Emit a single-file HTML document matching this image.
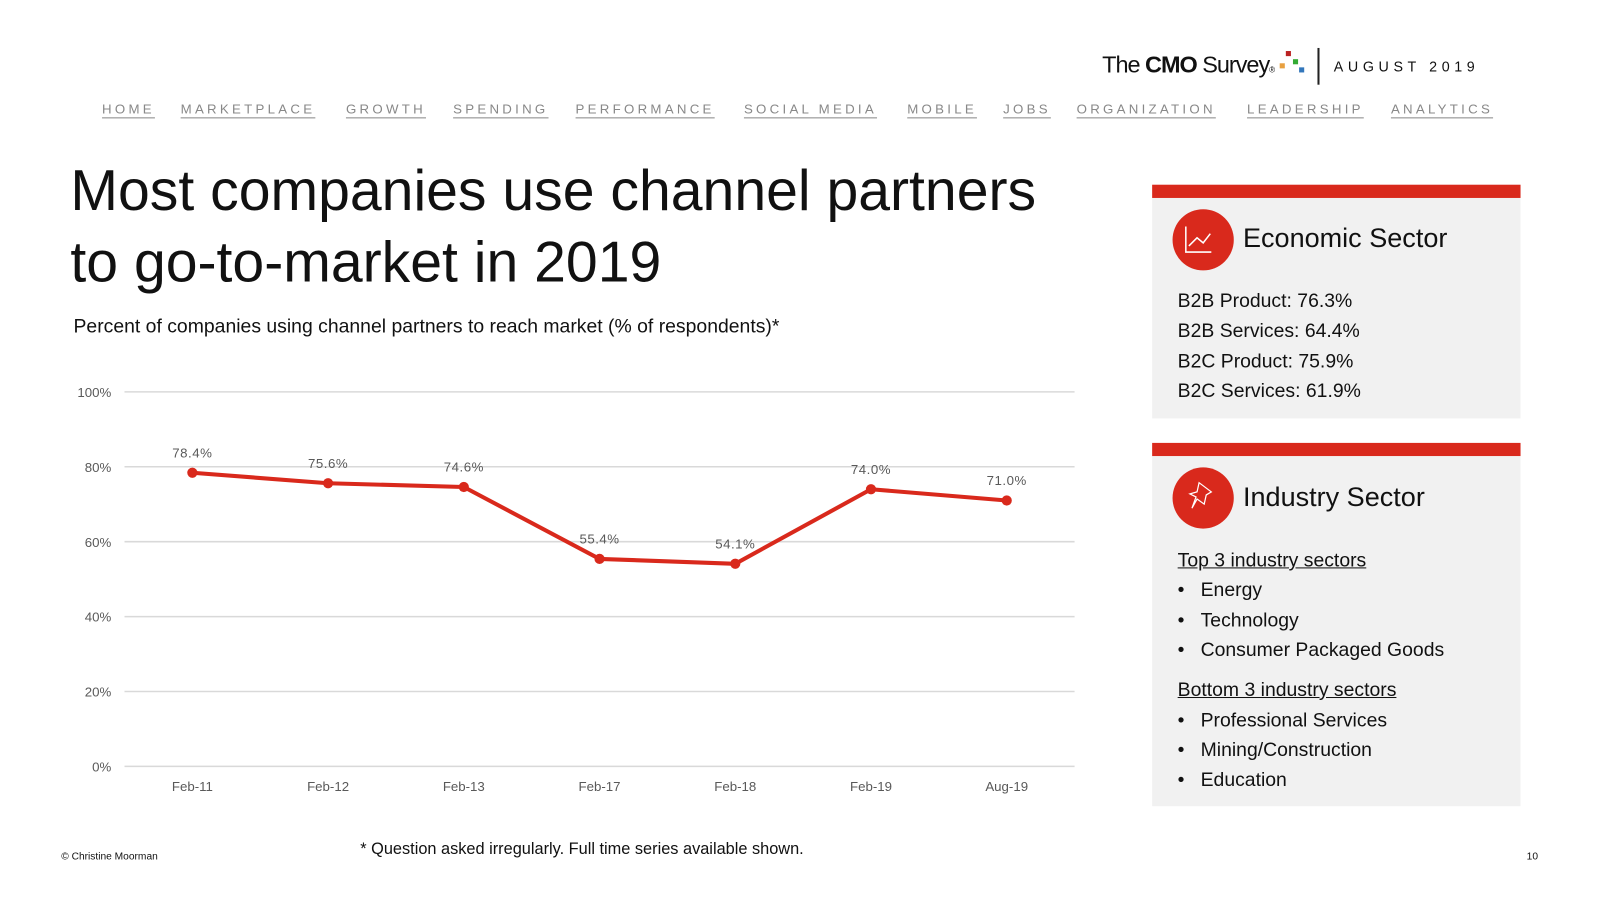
<!DOCTYPE html>
<html><head><meta charset="utf-8"><style>
body{margin:0;width:1600px;height:900px;background:#fff;font-family:"Liberation Sans",sans-serif;position:relative;overflow:hidden;color:#111}
#wrap{position:absolute;left:0;top:0;width:1568px;height:882px;transform:scale(1.0205);transform-origin:0 0}
.abs{position:absolute}
.nav a{position:absolute;top:99px;font-size:13px;letter-spacing:3.2px;color:#888;text-decoration:underline;text-underline-offset:4px;white-space:nowrap}
.card{position:absolute;left:1129px;width:361px;background:#f1f1f1}
.bar{position:absolute;left:1129px;width:361px;height:13px;background:#d9291c}
.circ{position:absolute;width:60px;height:60px;border-radius:50%;background:#d9291c}
.ct{position:absolute;font-size:26.5px;color:#111}
.li{position:absolute;left:1154px;font-size:19px;color:#111}
</style></head><body><div id="wrap">
<div class="abs" style="left:1080px;top:50px;font-size:23px;letter-spacing:-1px">The <b>CMO</b> Survey<span style="font-size:8px">®</span></div>
<div class="abs" style="left:1260px;top:50px;width:30px;height:26px">
<div class="abs" style="left:0;top:0;width:5px;height:5px;background:#b22"></div>
<div class="abs" style="left:-6px;top:12px;width:5px;height:5px;background:#e8a040"></div>
<div class="abs" style="left:7px;top:8px;width:5px;height:5px;background:#3a3"></div>
<div class="abs" style="left:13px;top:16px;width:5px;height:5px;background:#37b"></div></div>
<div class="abs" style="left:1291px;top:47px;width:2px;height:36px;background:#222"></div>
<div class="abs" style="left:1307px;top:57px;font-size:14px;letter-spacing:4.5px">AUGUST 2019</div>
<div class="nav">
<a style="left:100px">HOME</a>
<a style="left:177px">MARKETPLACE</a>
<a style="left:339px">GROWTH</a>
<a style="left:444px">SPENDING</a>
<a style="left:564px">PERFORMANCE</a>
<a style="left:729px">SOCIAL MEDIA</a>
<a style="left:889px">MOBILE</a>
<a style="left:983px">JOBS</a>
<a style="left:1055px">ORGANIZATION</a>
<a style="left:1222px">LEADERSHIP</a>
<a style="left:1363px">ANALYTICS</a>
</div>
<div class="abs" style="left:69px;top:152px;font-size:56px;line-height:70px;letter-spacing:0px;color:#111;white-space:nowrap">Most companies use channel partners<br>to go-to-market in 2019</div>
<div class="abs" style="left:72px;top:310px;font-size:19px;white-space:nowrap">Percent of companies using channel partners to reach market (% of respondents)*</div>
<svg class="abs" style="left:0;top:0" width="1100" height="800" id="chart"></svg>
<div class="abs" style="left:353px;top:824px;font-size:16px">* Question asked irregularly. Full time series available shown.</div>
<div class="abs" style="left:60px;top:834px;font-size:10px">© Christine Moorman</div>
<div class="abs" style="left:1496px;top:834px;font-size:10px">10</div>

<div class="bar" style="top:181px"></div>
<div class="card" style="top:194px;height:216px"></div>
<div class="circ" style="left:1149px;top:205px">
<svg width="60" height="60"><path d="M13 17V42H38M16 36L24 28L30 33L37 24" stroke="#fff" stroke-width="1.5" fill="none"/></svg></div>
<div class="ct" style="left:1218px;top:218px">Economic Sector</div>
<div class="li" style="top:285px">B2B Product: 76.3%</div>
<div class="li" style="top:314px">B2B Services: 64.4%</div>
<div class="li" style="top:344px">B2C Product: 75.9%</div>
<div class="li" style="top:373px">B2C Services: 61.9%</div>

<div class="bar" style="top:434px"></div>
<div class="card" style="top:447px;height:343px"></div>
<div class="circ" style="left:1149px;top:458px">
<svg width="60" height="60"><path d="M26 15L38 24L33 27L31 36L24 31L19 40L23 29L17 26L24 24Z" stroke="#fff" stroke-width="1.2" fill="none"/></svg></div>
<div class="ct" style="left:1218px;top:472px">Industry Sector</div>
<div class="li" style="top:539px;text-decoration:underline">Top 3 industry sectors</div>
<div class="li" style="top:568px">•&nbsp;&nbsp;&nbsp;Energy</div>
<div class="li" style="top:598px">•&nbsp;&nbsp;&nbsp;Technology</div>
<div class="li" style="top:627px">•&nbsp;&nbsp;&nbsp;Consumer Packaged Goods</div>
<div class="li" style="top:666px;text-decoration:underline">Bottom 3 industry sectors</div>
<div class="li" style="top:696px">•&nbsp;&nbsp;&nbsp;Professional Services</div>
<div class="li" style="top:725px">•&nbsp;&nbsp;&nbsp;Mining/Construction</div>
<div class="li" style="top:754px">•&nbsp;&nbsp;&nbsp;Education</div>
</div>
<script>
const categories=["Feb-11","Feb-12","Feb-13","Feb-17","Feb-18","Feb-19","Aug-19"];
const values=[78.4,75.6,74.6,55.4,54.1,74.0,71.0];
const valueLabels=["78.4%","75.6%","74.6%","55.4%","54.1%","74.0%","71.0%"];
const yTicks=[0,20,40,60,80,100];
const svg=document.getElementById('chart');const NS="http://www.w3.org/2000/svg";
const L=122,R=1053,T=384,B=751;
const bw=(R-L)/categories.length;
const x=i=>L+bw*(i+0.5);const y=v=>B-(B-T)*v/100;
function mk(t,a){const e=document.createElementNS(NS,t);for(const k in a)e.setAttribute(k,a[k]);svg.appendChild(e);return e;}
yTicks.forEach(v=>{const g=mk('line',{x1:L,x2:R,y1:y(v),y2:y(v),stroke:'#d9d9d9','stroke-width':1.5});


const t=mk('text',{x:109,y:y(v)+5,'text-anchor':'end','font-size':13,fill:'#595959','font-family':'Liberation Sans'});t.textContent=v+'%';

});
categories.forEach((c,i)=>{const t=mk('text',{x:x(i),y:775,'text-anchor':'middle','font-size':13,fill:'#595959','font-family':'Liberation Sans'});t.textContent=c;

});
const line=mk('polyline',{points:values.map((v,i)=>x(i)+','+y(v)).join(' '),fill:'none',stroke:'#d9291c','stroke-width':4,'stroke-linejoin':'round'});


values.forEach((v,i)=>{const c=mk('circle',{cx:x(i),cy:y(v),r:5,fill:'#d9291c'});


const t=mk('text',{x:x(i),y:y(v)-15,'text-anchor':'middle','font-size':13,fill:'#595959','font-family':'Liberation Sans','letter-spacing':0.5});t.textContent=valueLabels[i];

});
</script>
</body></html>
